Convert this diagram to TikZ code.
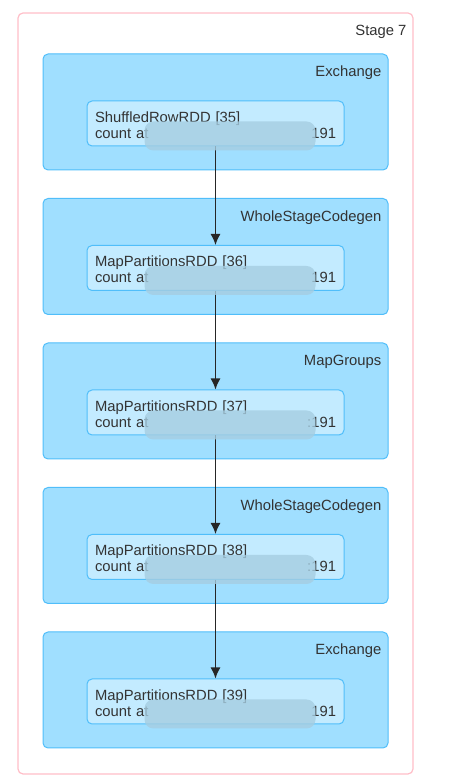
\documentclass[tikz,border=0pt]{standalone}
\usepackage{fontspec}
\setmainfont{Liberation Sans}
\usepackage{tikz}
\usetikzlibrary{arrows.meta,shapes,positioning}
\definecolor{sppink}{RGB}{255,190,200}
\definecolor{spblue}{RGB}{160,223,255}
\definecolor{spedge}{RGB}{80,190,250}
\definecolor{splight}{RGB}{195,235,255}
\definecolor{sptext}{RGB}{51,51,51}
\definecolor{spblur}{RGB}{165,205,225}
\tikzstyle{stagebox} = [rectangle, rounded corners=5pt, draw=sppink, fill=white, line width=1.2pt]
\tikzstyle{cluster} = [rectangle, rounded corners=5pt, minimum width=345pt, minimum height=116pt, draw=spedge, fill=spblue, line width=1pt]
\tikzstyle{rdd} = [rectangle, rounded corners=5pt, minimum width=257pt, minimum height=45pt, text width=241pt, inner xsep=8pt, inner ysep=2pt, align=left, draw=spedge, fill=splight, line width=1pt, text=sptext, font=\fontsize{14.8}{16}\selectfont, execute at begin node={\rule{0pt}{14pt}}]
\tikzstyle{clabel} = [anchor=east, inner sep=0pt, text=sptext, font=\fontsize{14.8}{16}\selectfont]
\tikzstyle{arrow} = [line width=1.3pt, color=black!85, -{Latex[length=11pt,width=10pt]}]
\tikzstyle{blur} = [fill=spblur, fill opacity=0.8, rounded corners=9pt]

\begin{document}
\begin{tikzpicture}[x=1pt, y=1pt]
\useasboundingbox (0,0) rectangle (454,782);
% stage
\node (stage) [stagebox, minimum width=395pt, minimum height=761pt] at (215.5,388.5) {};
\node [clabel] at ([shift={(-7pt,-19.5pt)}]stage.north east) {Stage 7};

% clusters
\node (c1) [cluster] at (215.5,670) {};
\node (c2) [cluster, below of=c1, node distance=144.5pt] {};
\node (c3) [cluster, below of=c2, node distance=144.5pt] {};
\node (c4) [cluster, below of=c3, node distance=144.5pt] {};
\node (c5) [cluster, below of=c4, node distance=144.5pt] {};
\node [clabel] at ([shift={(-7pt,-19.5pt)}]c1.north east) {Exchange};
\node [clabel] at ([shift={(-7pt,-19.5pt)}]c2.north east) {WholeStageCodegen};
\node [clabel] at ([shift={(-7pt,-19.5pt)}]c3.north east) {MapGroups};
\node [clabel] at ([shift={(-7pt,-19.5pt)}]c4.north east) {WholeStageCodegen};
\node [clabel] at ([shift={(-7pt,-19.5pt)}]c5.north east) {Exchange};

% rdds
\node (r35) [rdd] at ([yshift=-11.5pt]c1.center) {ShuffledRowRDD [35]\\count at\hfill 191};
\node (r36) [rdd] at ([yshift=-11.5pt]c2.center) {MapPartitionsRDD [36]\\count at\hfill 191};
\node (r37) [rdd] at ([yshift=-11.5pt]c3.center) {MapPartitionsRDD [37]\\count at\hfill :191};
\node (r38) [rdd] at ([yshift=-11.5pt]c4.center) {MapPartitionsRDD [38]\\count at\hfill :191};
\node (r39) [rdd] at ([yshift=-11.5pt]c5.center) {MapPartitionsRDD [39]\\count at\hfill 191};

\draw[arrow] (r35) -- (r36);
\draw[arrow] (r36) -- (r37);
\draw[arrow] (r37) -- (r38);
\draw[arrow] (r38) -- (r39);

% blurred part of the text
\foreach \n in {r35,r36,r37,r38,r39}
  \fill[blur] ([shift={(58pt,-21pt)}]\n.north west) rectangle ([shift={(229pt,-50pt)}]\n.north west);
\end{tikzpicture}
\end{document}
